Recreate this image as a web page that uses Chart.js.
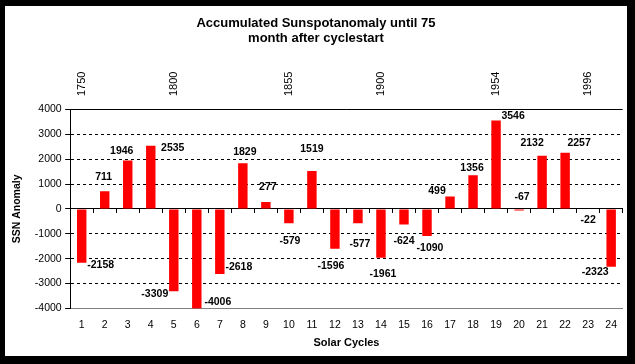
<!DOCTYPE html>
<html>
<head>
<meta charset="utf-8">
<script src="https://cdn.jsdelivr.net/npm/chart.js@4.4.1/dist/chart.umd.min.js"></script>
<style>
  html, body { margin: 0; padding: 0; background: #000; }
  #frame { position: absolute; left: 0; top: 0; width: 635px; height: 364px; background: #000; }
  #chart { position: absolute; left: 5px; top: 6px; background: #fff; }
</style>
</head>
<body>
<div id="frame"><canvas id="chart" width="622" height="350"></canvas></div>
<script>
// Solar cycle numbers and the accumulated anomaly 75 months after each cycle start
const cycles = ['1', '2', '3', '4', '5', '6', '7', '8', '9', '10', '11', '12',
                '13', '14', '15', '16', '17', '18', '19', '20', '21', '22', '23', '24'];
const anomaly = [-2158, 711, 1946, 2535, -3309, -4006, -2618, 1829, 277, -579, 1519, -1596,
                 -577, -1961, -624, -1090, 499, 1356, 3546, -67, 2132, 2257, -22, -2323];
// start years shown on the top axis (blank = no label)
const startYears = ['1750', '', '', '', '1800', '', '', '', '', '1855', '', '', '',
                    '1900', '', '', '', '', '1954', '', '', '', '1996', ''];
const yTicks = [-4000, -3000, -2000, -1000, 0, 1000, 2000, 3000, 4000];

// where each value label sits, relative to the end of its bar (px)
const labelNudge = [[19, 2], [-1, -14], [-6, -9], [22, 2], [-19, 3], [21, -7], [19, -7], [2, -11],
                    [2, -15], [1, 18], [0, -22], [-4, 17], [2, 21], [2, 16], [0, 17], [3, 12],
                    [-13, -5], [-1, -7], [17, -4], [3, -13], [-10, -13], [14, -10], [0, 11], [-16, 5]];

const FONT = '"Liberation Sans", Arial, sans-serif';
Chart.defaults.font.family = FONT;
Chart.defaults.color = '#000';

// Helper: draw the numbers next to the bars
const barLabels = {
    id: 'barLabels',
    afterDatasetsDraw(chart) {
        const ctx = chart.ctx;
        const meta = chart.getDatasetMeta(0);
        ctx.save();
        ctx.font = 'bold 10.5px ' + FONT;
        ctx.fillStyle = '#000';
        ctx.textAlign = 'center';
        ctx.textBaseline = 'middle';
        meta.data.forEach((bar, i) => {
            const [dx, dy] = labelNudge[i];
            ctx.fillText(String(anomaly[i]), bar.x + dx, bar.y + dy);
        });
        ctx.restore();
    }
};

// Helper: vertical start-year labels above the plot, placed on the category scale
const yearLabels = {
    id: 'yearLabels',
    afterDraw(chart) {
        const ctx = chart.ctx;
        const xs = chart.scales.x;
        const baseY = chart.chartArea.top - 13.3;
        ctx.save();
        ctx.font = '11px ' + FONT;
        ctx.fillStyle = '#000';
        ctx.textAlign = 'left';
        ctx.textBaseline = 'middle';
        startYears.forEach((yr, i) => {
            if (!yr) return;
            ctx.save();
            ctx.translate(xs.getPixelForValue(i), baseY);
            ctx.rotate(-Math.PI / 2);
            ctx.fillText(yr, 0, 0);
            ctx.restore();
        });
        ctx.restore();
    }
};

new Chart(document.getElementById('chart'), {
    type: 'bar',
    data: {
        labels: cycles,
        datasets: [{
            data: anomaly,
            backgroundColor: '#ff0000',
            borderWidth: 0,
            barPercentage: 0.41,
            categoryPercentage: 1,
            xAxisID: 'x',
            yAxisID: 'y'
        }]
    },
    options: {
        responsive: false,
        animation: false,
        devicePixelRatio: 1,
        layout: { padding: 0 },
        plugins: {
            legend: { display: false },
            tooltip: { enabled: false },
            title: {
                display: true,
                text: ['Accumulated Sunspotanomaly until 75', 'month after cyclestart'],
                color: '#000',
                font: { size: 13, weight: 'bold', lineHeight: 1.2 },
                padding: { top: 9.5, bottom: 62.6 }
            }
        },
        scales: {
            x: {
                position: 'bottom',
                offset: true,
                grid: { drawOnChartArea: false, drawTicks: false },
                border: { color: '#808080' },
                ticks: { autoSkip: false, maxRotation: 0, padding: 10, font: { size: 10.5 } },
                title: {
                    display: true,
                    text: 'Solar Cycles',
                    font: { size: 11, weight: 'bold' },
                    padding: { top: 0, bottom: 6.4 }
                },
                afterFit: s => { s.height = 47.5; }
            },
            xZero: {
                axis: 'x',
                type: 'category',
                position: { y: 0 },
                labels: cycles,
                offset: true,
                z: 1,
                grid: { offset: true, drawOnChartArea: false, tickLength: 4, color: '#000' },
                border: { color: '#000' },
                ticks: { display: false }
            },
            y: {
                min: yTicks[0],
                max: yTicks[yTicks.length - 1],
                ticks: {
                    stepSize: yTicks[1] - yTicks[0],
                    padding: 3.5,
                    font: { size: 10.5 },
                    callback: v => String(v)
                },
                grid: {
                    color: c => (c.tick && c.tick.value === yTicks[0]) ? '#808080' : '#000',
                    tickColor: '#000',
                    tickLength: 5
                },
                border: {
                    color: '#000',
                    dash: c => (c.tick && c.tick.value % 4000 !== 0) ? [3, 3] : []
                },
                title: {
                    display: true,
                    text: 'SSN Anomaly',
                    font: { size: 10.5, weight: 'bold' },
                    padding: { top: 6.2, bottom: 0 }
                },
                afterFit: s => { s.width = 65.2; }
            }
        }
    },
    plugins: [barLabels, yearLabels]
});
</script>
</body>
</html>
